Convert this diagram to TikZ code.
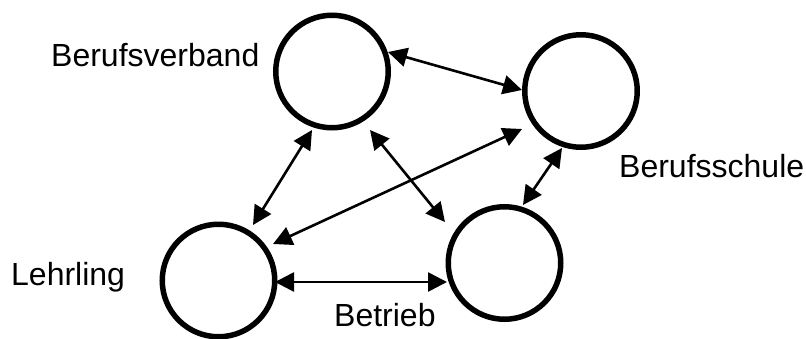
\documentclass[tikz,border=0pt]{standalone}
\usepackage{fontspec}
\setmainfont{Liberation Sans}
\usetikzlibrary{arrows.meta,calc}
\begin{document}
\begin{tikzpicture}[x=1pt,y=-1pt,
  ring/.style={circle,draw=black,line width=5.5pt,minimum size=112.5pt,inner sep=0pt,outer sep=0pt},
  lbl/.style={anchor=base west,inner sep=0pt,font=\fontsize{32}{37}\selectfont},
  link/.style={line width=2.6pt,{Triangle[length=19pt,width=19pt]}-{Triangle[length=19pt,width=19pt]}}]
\useasboundingbox (0,0) rectangle (806,338);
\node[ring] (c1) at (332,71.5) {};
\node[ring] (c2) at (581,91) {};
\node[ring] (c3) at (218.5,280.5) {};
\node[ring] (c4) at (504.5,263) {};
\node[lbl] (t1) at (51,66) {Berufsverband};
\node[lbl] (t2) at (619,177) {Berufsschule};
\node[lbl] (t3) at (11,285) {Lehrling};
\node[lbl] (t4) at (334,326) {Betrieb};
\draw[link] ($(c1)+(56,-19.5)$) -- ($(c2)+(-59,-1)$);
\draw[link] ($(c1)+(-20,58.5)$) -- ($(c3)+(34.5,-55.5)$);
\draw[link] ($(c1)+(38,58.5)$) -- ($(c4)+(-59.5,-41)$);
\draw[link] ($(c2)+(-59,38)$) -- ($(c3)+(54.5,-36.5)$);
\draw[link] ($(c2)+(-19,57)$) -- ($(c4)+(18.5,-58)$);
\draw[link] ($(c3)+(56.5,1.5)$) -- ($(c4)+(-57.5,19)$);
\end{tikzpicture}
\end{document}
